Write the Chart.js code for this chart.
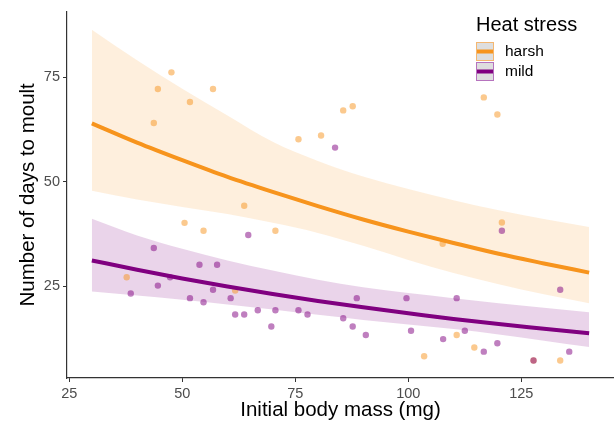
<!DOCTYPE html>
<html>
<head>
<meta charset="utf-8">
<script src="https://cdn.jsdelivr.net/npm/chart.js@4"></script>
<style>
  html, body { margin: 0; padding: 0; background: #fff; }
</style>
</head>
<body>
<canvas id="chart" width="614" height="425"></canvas>
<script>
// values
const fitX = [30, 40, 50, 60, 70, 80, 90, 100, 110, 120, 130, 140];

const harshFit   = [64.0, 59.4, 55.2, 51.2, 47.6, 44.2, 41.0, 38.1, 35.4, 32.8, 30.5, 28.3];
const harshUpper = [86.4, 79.1, 72.3, 65.9, 59.6, 55.0, 51.3, 48.3, 45.6, 43.2, 41.1, 39.2];
const harshLower = [47.9, 45.8, 44.0, 42.3, 40.2, 37.8, 34.7, 31.3, 28.2, 25.5, 23.1, 21.0];

const mildFit   = [31.2, 29.0, 26.9, 25.0, 23.2, 21.5, 20.0, 18.6, 17.2, 16.0, 14.9, 13.8];
const mildUpper = [41.2, 37.2, 34.0, 31.2, 28.8, 26.6, 24.8, 23.4, 22.2, 21.0, 19.9, 18.8];
const mildLower = [23.8, 22.8, 21.8, 20.7, 19.5, 18.2, 17.0, 15.9, 14.8, 13.5, 12.0, 10.5];

const harshMass = [47.6, 44.6, 56.8, 51.7, 43.7, 116.7, 119.7, 85.6, 87.7, 75.7, 80.7, 63.7,
  50.5, 54.7, 70.6, 37.7, 61.7, 120.7, 107.6, 110.7, 114.6, 103.5, 127.7, 133.6];
const harshDays = [76.2, 72.2, 72.2, 69.1, 64.1, 70.2, 66.1, 67.1, 68.1, 60.2, 61.1, 44.3,
  40.2, 38.3, 38.3, 27.2, 24.0, 40.3, 35.2, 13.4, 10.4, 8.3, 7.3, 7.3];

const mildMass = [83.8, 64.6, 43.7, 53.8, 57.7, 44.6, 38.6, 56.8, 51.7, 54.7, 60.7, 61.7,
  63.7, 66.7, 70.6, 69.7, 120.7, 133.6, 88.6, 99.6, 110.7, 75.7, 77.7, 85.6, 87.7, 90.6,
  100.6, 112.5, 107.7, 116.7, 119.7, 127.7, 135.6, 47.3];
const mildDays = [58.2, 37.3, 34.2, 30.2, 30.2, 25.2, 23.3, 24.2, 22.2, 21.2, 22.2, 18.3,
  18.3, 19.3, 19.3, 15.4, 38.3, 24.2, 22.2, 22.2, 22.2, 19.3, 18.3, 17.4, 15.4, 13.4,
  14.4, 14.4, 12.4, 9.4, 11.4, 7.3, 9.4, 27.2];

const xTicks = [25, 50, 75, 100, 125];
const yTicks = [25, 50, 75];

const groups = ['harsh', 'mild'];
const groupColors = ['#F7941D', '#800080'];

function pts(xs, ys) {
  return xs.map((x, i) => ({ x: x, y: ys[i] }));
}

const FONT = 'Liberation Sans, Arial, sans-serif';

function bandSet(ys, fill, bg) {
  return {
    data: pts(fitX, ys),
    showLine: true,
    borderWidth: 0,
    pointRadius: 0,
    backgroundColor: bg,
    fill: fill,
    cubicInterpolationMode: 'monotone',
    order: 10
  };
}

// legend drawn inside the panel, top right
const legendBox = {
  id: 'legendBox',
  afterDraw(chart) {
    const ctx = chart.ctx;
    ctx.save();
    ctx.fillStyle = '#000';
    ctx.textBaseline = 'middle';
    ctx.font = '20px ' + FONT;
    ctx.fillText('Heat stress', 476, 25);
    const keyBorders = ['#F4B771', '#B673BE'];
    groups.forEach((g, i) => {
      const top = 42 + i * 20;
      ctx.fillStyle = '#DEDEDE';
      ctx.fillRect(476, top, 18, 19);
      ctx.strokeStyle = keyBorders[i];
      ctx.lineWidth = 1;
      ctx.strokeRect(476.5, top + 0.5, 17, 18);
      ctx.strokeStyle = groupColors[i];
      ctx.lineWidth = 4;
      ctx.beginPath();
      ctx.moveTo(477, top + 9.5);
      ctx.lineTo(493, top + 9.5);
      ctx.stroke();
      ctx.fillStyle = '#000';
      ctx.font = '15.5px ' + FONT;
      ctx.fillText(g, 505, top + 10);
    });
    ctx.restore();
  }
};

const ctx = document.getElementById('chart').getContext('2d');
new Chart(ctx, {
  type: 'scatter',
  data: {
    datasets: [
      bandSet(harshUpper, '+1', 'rgba(247,148,29,0.15)'),
      bandSet(harshLower, false, 'rgba(247,148,29,0.15)'),
      bandSet(mildUpper, '+1', 'rgba(128,0,128,0.17)'),
      bandSet(mildLower, false, 'rgba(128,0,128,0.17)'),
      {
        data: pts(harshMass, harshDays),
        pointRadius: 3.2,
        pointBorderWidth: 0,
        backgroundColor: 'rgba(247,148,29,0.5)',
        order: 3
      },
      {
        data: pts(mildMass, mildDays),
        pointRadius: 3.2,
        pointBorderWidth: 0,
        backgroundColor: 'rgba(128,0,128,0.5)',
        order: 2
      },
      {
        data: pts(fitX, harshFit),
        showLine: true,
        borderColor: groupColors[0],
        borderWidth: 4,
        pointRadius: 0,
        cubicInterpolationMode: 'monotone',
        order: 1
      },
      {
        data: pts(fitX, mildFit),
        showLine: true,
        borderColor: groupColors[1],
        borderWidth: 4,
        pointRadius: 0,
        cubicInterpolationMode: 'monotone',
        order: 0
      }
    ]
  },
  options: {
    responsive: false,
    animation: false,
    layout: { autoPadding: false, padding: { top: 10, right: 0, bottom: 0, left: 0 } },
    plugins: {
      legend: { display: false },
      tooltip: { enabled: false }
    },
    scales: {
      x: {
        type: 'linear',
        min: 24.5,
        max: 145.5,
        afterBuildTicks: s => { s.ticks = xTicks.map(v => ({ value: v })); },
        afterFit: s => { s.height = 47; s.paddingRight = 0; s.paddingLeft = 0; },
        ticks: { font: { family: FONT, size: 14.5 }, color: '#4D4D4D', padding: 3 },
        grid: { drawOnChartArea: false, tickLength: 4, color: '#333', lineWidth: 1 },
        border: { color: '#333', width: 1.2 },
        title: {
          display: true,
          text: 'Initial body mass (mg)',
          font: { family: FONT, size: 20.5 },
          color: '#000',
          padding: { top: 0, bottom: 2.5 }
        }
      },
      y: {
        min: 3.1,
        max: 90.7,
        afterBuildTicks: s => { s.ticks = yTicks.map(v => ({ value: v })); },
        afterFit: s => { s.width = 67; },
        ticks: { font: { family: FONT, size: 14.5 }, color: '#4D4D4D', padding: 3 },
        grid: { drawOnChartArea: false, tickLength: 4, color: '#333', lineWidth: 1 },
        border: { color: '#333', width: 1.2 },
        title: {
          display: true,
          text: 'Number of days to moult',
          font: { family: FONT, size: 20.5 },
          color: '#000',
          padding: { top: 16.5, bottom: 0 }
        }
      }
    }
  },
  plugins: [legendBox]
});
</script>
</body>
</html>
